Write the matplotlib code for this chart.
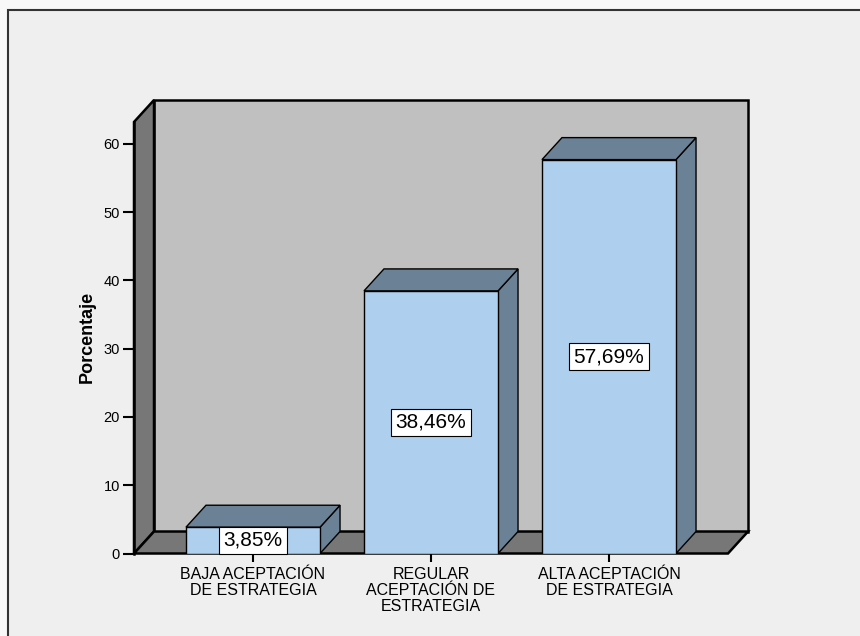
import matplotlib
matplotlib.use('Agg')
import matplotlib.pyplot as plt
from matplotlib.patches import Polygon, Rectangle

plt.rcParams['font.family'] = ['Liberation Sans', 'DejaVu Sans']

# --- DATA ---
categorias = ['BAJA ACEPTACIÓN\nDE ESTRATEGIA',
              'REGULAR\nACEPTACIÓN DE\nESTRATEGIA',
              'ALTA ACEPTACIÓN\nDE ESTRATEGIA']
porcentajes = [3.85, 38.46, 57.69]
etiquetas = ['3,85%', '38,46%', '57,69%']
y_ticks = [0, 10, 20, 30, 40, 50, 60]

# --- ESTILO / GEOMETRIA 3D ---
X0, X1 = -0.6685, 2.6685      # borde frontal del piso
DX, DY = 0.1124, 3.22         # desplazamiento de profundidad
WALL_TOP = 63.2
BAR_W = 0.753
C_FRONT = '#aecfed'
C_SIDE = '#6b8195'
C_WALL = '#c0c0c0'
C_DARK = '#777777'

fig = plt.figure(figsize=(8.6, 6.36), dpi=100, facecolor='#f8f8f8')
# marco exterior
fig.patches.append(Rectangle((8 / 860, -0.1), 1.2, 1 - 10 / 636 + 0.1,
                             transform=fig.transFigure, facecolor='#efefef',
                             edgecolor='#333333', linewidth=1.5, zorder=-5))

ax = fig.add_axes([134 / 860, 82.5 / 636, 614 / 860, 453.5 / 636])
ax.set_zorder(2)
ax.set_facecolor('none')
ax.set_xlim(X0, X1 + DX)
ax.set_ylim(0, WALL_TOP + DY)

# paredes y piso
ax.add_patch(Rectangle((X0 + DX, DY), X1 - X0, WALL_TOP, facecolor=C_WALL,
                       edgecolor='black', linewidth=1.8, zorder=1, clip_on=False))
ax.add_patch(Polygon([(X0, 0), (X0, WALL_TOP), (X0 + DX, WALL_TOP + DY), (X0 + DX, DY)],
                     closed=True, facecolor=C_DARK, edgecolor='black', linewidth=1.8,
                     zorder=2, clip_on=False))
ax.add_patch(Polygon([(X0, 0), (X1, 0), (X1 + DX, DY), (X0 + DX, DY)],
                     closed=True, facecolor=C_DARK, edgecolor='black', linewidth=1.8,
                     zorder=2, clip_on=False))

# barras
xs = list(range(len(porcentajes)))
ax.bar(xs, porcentajes, width=BAR_W, color=C_FRONT, edgecolor='black',
       linewidth=1.0, zorder=4)
for x, v, lab in zip(xs, porcentajes, etiquetas):
    l, r = x - BAR_W / 2, x + BAR_W / 2
    ax.add_patch(Polygon([(r, 0), (r + DX, DY), (r + DX, v + DY), (r, v)], closed=True,
                         facecolor=C_SIDE, edgecolor='black', linewidth=1.0, zorder=3))
    ax.add_patch(Polygon([(l, v), (l + DX, v + DY), (r + DX, v + DY), (r, v)], closed=True,
                         facecolor=C_SIDE, edgecolor='black', linewidth=1.0, zorder=3))
    ax.text(x, v / 2, lab, ha='center', va='center', fontsize=15, zorder=6,
            bbox=dict(boxstyle='square,pad=0.2', facecolor='white', edgecolor='black',
                      linewidth=0.8))

# ejes
for s in ['top', 'right', 'bottom']:
    ax.spines[s].set_visible(False)
ax.spines['left'].set_bounds(0, WALL_TOP)
ax.spines['left'].set_linewidth(1.8)
ax.spines['left'].set_zorder(5)
ax.set_yticks(y_ticks)
ax.tick_params(axis='y', direction='out', length=8, width=1.5, labelsize=10.5, pad=2)
ax.set_xticks(xs)
ax.set_xticklabels(categorias, fontsize=11.5, linespacing=1.05)
ax.tick_params(axis='x', direction='out', length=6, width=1.5, pad=4)

ax.set_ylabel('Porcentaje', fontsize=13, fontweight='bold')
ax.yaxis.set_label_coords(-0.062, 0.477)

plt.savefig('out.png', dpi=100, facecolor=fig.get_facecolor())
plt.close()
